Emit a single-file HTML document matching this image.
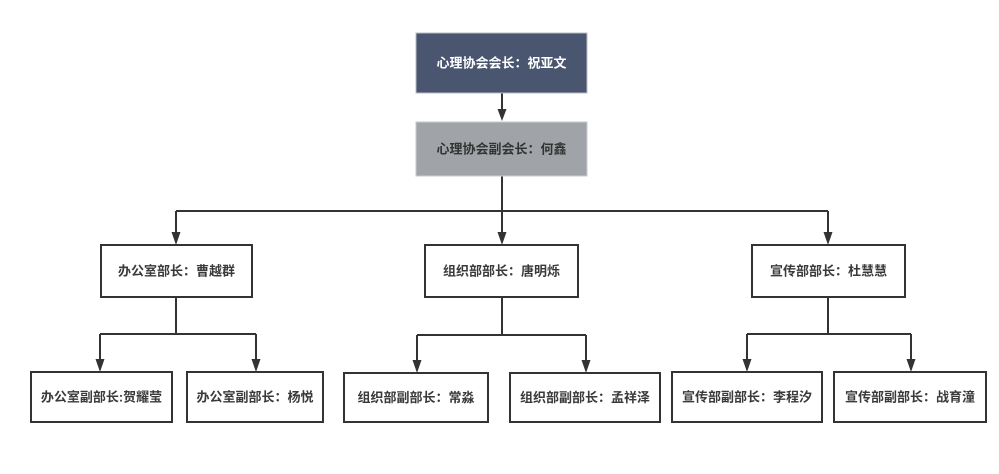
<!DOCTYPE html>
<html><head><meta charset="utf-8"><style>
html,body{margin:0;padding:0;background:#fff;}
svg{display:block;}
text{font-family:"Liberation Sans","Noto Sans CJK SC",sans-serif;font-size:13px;font-weight:bold;text-anchor:middle;dominant-baseline:central;fill:#3a3a3a;}
</style></head><body>
<svg width="999" height="474" viewBox="0 0 999 474" xmlns="http://www.w3.org/2000/svg">
<defs>
<marker id="a" markerWidth="9" markerHeight="12" refX="4.5" refY="12" orient="auto-start-reverse" markerUnits="userSpaceOnUse" viewBox="0 0 9 12">
<path d="M0,0 L9,0 L4.5,12 Z" fill="#333"/>
</marker>
</defs>
<g stroke="#333" stroke-width="2" fill="none">
<!-- top to second -->
<line x1="502" y1="93" x2="502" y2="109"/>
<path d="M497.5,109 L506.5,109 L502,121 Z" fill="#333" stroke="none"/>
<!-- second to level -->
<line x1="502" y1="176" x2="502" y2="211"/>
<line x1="176" y1="211" x2="828" y2="211"/>
<line x1="176" y1="211" x2="176" y2="232"/>
<line x1="502" y1="211" x2="502" y2="232"/>
<line x1="828" y1="211" x2="828" y2="232"/>
<!-- left dept children -->
<line x1="176" y1="297" x2="176" y2="334"/>
<line x1="100" y1="334" x2="256" y2="334"/>
<line x1="100" y1="334" x2="100" y2="359"/>
<line x1="256" y1="334" x2="256" y2="359"/>
<!-- middle -->
<line x1="502" y1="297" x2="502" y2="335"/>
<line x1="417" y1="335" x2="586" y2="335"/>
<line x1="417" y1="335" x2="417" y2="360"/>
<line x1="586" y1="335" x2="586" y2="360"/>
<!-- right -->
<line x1="828" y1="297" x2="828" y2="334"/>
<line x1="747" y1="334" x2="911" y2="334"/>
<line x1="747" y1="334" x2="747" y2="359"/>
<line x1="911" y1="334" x2="911" y2="359"/>
</g>
<g fill="#333">
<path d="M171.5,232 L180.5,232 L176,245 Z"/>
<path d="M497.5,232 L506.5,232 L502,245 Z"/>
<path d="M823.5,232 L832.5,232 L828,245 Z"/>
<path d="M95.5,359 L104.5,359 L100,372 Z"/>
<path d="M251.5,359 L260.5,359 L256,372 Z"/>
<path d="M412.5,360 L421.5,360 L417,373 Z"/>
<path d="M581.5,360 L590.5,360 L586,373 Z"/>
<path d="M742.5,359 L751.5,359 L747,372 Z"/>
<path d="M906.5,359 L915.5,359 L911,372 Z"/>
</g>
<!-- boxes -->
<rect x="416" y="33" width="171" height="60" fill="#4a556f" stroke="#b8bcc4" stroke-width="1"/>
<rect x="416" y="122" width="171" height="54" fill="#a0a4a9" stroke="#c8cacd" stroke-width="1"/>
<g fill="#fff" stroke="#333" stroke-width="2">
<rect x="101" y="245" width="151" height="52"/>
<rect x="425" y="245" width="153" height="52"/>
<rect x="752" y="245" width="153" height="52"/>
<rect x="31" y="372" width="141" height="50"/>
<rect x="187" y="372" width="136" height="50"/>
<rect x="344" y="373" width="144" height="49"/>
<rect x="510" y="373" width="150" height="49"/>
<rect x="672" y="372" width="150" height="50"/>
<rect x="834" y="372" width="152" height="50"/>
</g>
<text x="501.5" y="63" style="fill:#fff">心理协会会长：祝亚文</text>
<text x="501.5" y="149" style="fill:#333">心理协会副会长：何鑫</text>
<text x="176.5" y="271">办公室部长：曹越群</text>
<text x="501.5" y="271">组织部部长：唐明烁</text>
<text x="828.5" y="271">宣传部部长：杜慧慧</text>
<text x="101.5" y="397">办公室副部长:贺耀莹</text>
<text x="255" y="397">办公室副部长：杨悦</text>
<text x="416" y="397.5">组织部副部长：常淼</text>
<text x="585" y="397.5">组织部副部长：孟祥泽</text>
<text x="747" y="397">宣传部副部长：李程汐</text>
<text x="910" y="397">宣传部副部长：战育潼</text>
</svg>
</body></html>
